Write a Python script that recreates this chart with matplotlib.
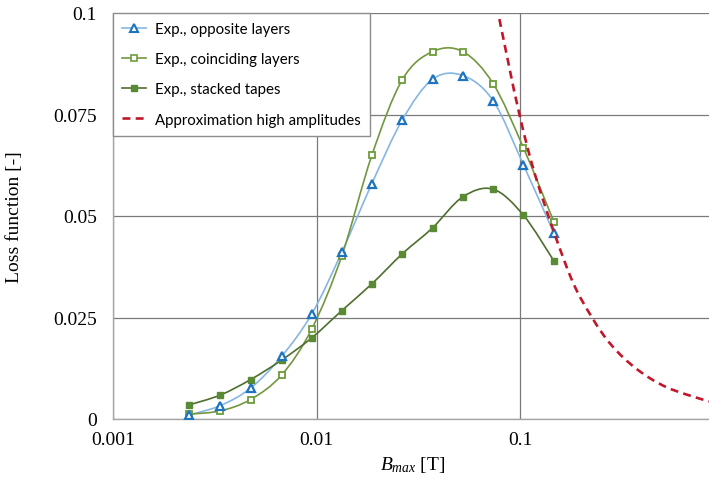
import numpy as np
import matplotlib
matplotlib.use("Agg")
import matplotlib.pyplot as plt
from matplotlib.path import Path
from matplotlib.patches import PathPatch
from matplotlib.lines import Line2D

# ---------------- data ----------------
b_max = [0.00237, 0.00336, 0.00473, 0.00672, 0.00947, 0.0133, 0.0187,
         0.0264, 0.0372, 0.0523, 0.0738, 0.104, 0.147]
opposite = [0.0010, 0.0033, 0.0076, 0.0154, 0.0259, 0.0411, 0.0580,
            0.0737, 0.0837, 0.0846, 0.0784, 0.0626, 0.0457]
coinciding = [0.0012, 0.0020, 0.0048, 0.0108, 0.0222, 0.0402, 0.0650,
              0.0836, 0.0905, 0.0905, 0.0826, 0.0668, 0.0485]
stacked = [0.0035, 0.0059, 0.0097, 0.0145, 0.0200, 0.0267, 0.0333,
           0.0407, 0.0471, 0.0547, 0.0566, 0.0502, 0.0389]
approx_b = [0.0792, 0.0993, 0.1232, 0.1764, 0.2256, 0.2828, 0.3753, 0.5275, 0.8296, 1.0]
approx_loss = [0.0985, 0.0751, 0.0575, 0.0353, 0.0251, 0.0181, 0.0123, 0.0078, 0.0045, 0.0036]

series_labels = ["Exp., opposite layers", "Exp., coinciding layers",
                 "Exp., stacked tapes", "Approximation high amplitudes"]
x_ticks = [0.001, 0.01, 0.1]
x_tick_labels = ["0.001", "0.01", "0.1"]
y_ticks = [0, 0.025, 0.05, 0.075, 0.1]
y_tick_labels = ["0", "0.025", "0.05", "0.075", "0.1"]

# ---------------- style ----------------
plt.rcParams["mathtext.fontset"] = "custom"
plt.rcParams["mathtext.rm"] = "Liberation Serif"
plt.rcParams["mathtext.it"] = "Liberation Serif:italic"

c_opp_line = "#86b6e3"
c_opp_mark = "#1f74c0"
c_coin_line = "#73973f"
c_coin_mark = "#6c9c3a"
c_stack_line = "#4e6e2e"
c_stack_mark = "#5a8a34"
c_red = "#c0182a"
grid_c = "#7a7a7a"


def smooth_path(xs, ys):
    """Excel-like smoothed line (Catmull-Rom as cubic Bezier) in log-x space."""
    lx = np.log10(np.asarray(xs, float))
    y = np.asarray(ys, float)
    n = len(lx)
    verts = [(xs[0], ys[0])]
    codes = [Path.MOVETO]
    for i in range(n - 1):
        i0, i1, i2, i3 = max(i - 1, 0), i, i + 1, min(i + 2, n - 1)
        c1x = lx[i1] + (lx[i2] - lx[i0]) / 6.0
        c1y = y[i1] + (y[i2] - y[i0]) / 6.0
        c2x = lx[i2] - (lx[i3] - lx[i1]) / 6.0
        c2y = y[i2] - (y[i3] - y[i1]) / 6.0
        verts += [(10 ** c1x, c1y), (10 ** c2x, c2y), (xs[i2], ys[i2])]
        codes += [Path.CURVE4] * 3
    return Path(verts, codes)


fig = plt.figure(figsize=(7.09, 4.81), dpi=100)
ax = fig.add_axes([113.3 / 709, 61 / 481, 610 / 709, 406 / 481])
ax.set_xscale("log")
ax.set_xlim(0.001, 1)
ax.set_ylim(0, 0.1)

# grid
ax.set_xticks(x_ticks)
ax.set_xticklabels(x_tick_labels)
ax.set_yticks(y_ticks)
ax.set_yticklabels(y_tick_labels)
ax.xaxis.set_minor_locator(matplotlib.ticker.NullLocator())
ax.grid(True, which="major", color=grid_c, linewidth=0.9)
ax.set_axisbelow(True)
for s in ["top", "right"]:
    ax.spines[s].set_visible(False)
for s in ["left", "bottom"]:
    ax.spines[s].set_color("#a6a6a6")
    ax.spines[s].set_linewidth(1.0)
ax.tick_params(axis="both", length=0)
ax.tick_params(axis="y", pad=12)
ax.tick_params(axis="x", pad=8.5)
for lab in ax.get_xticklabels() + ax.get_yticklabels():
    lab.set_fontfamily("Liberation Serif")
    lab.set_fontsize(14)

# series lines (smoothed)
ax.add_patch(PathPatch(smooth_path(b_max, opposite), fill=False,
                       edgecolor=c_opp_line, linewidth=1.2, zorder=3))
ax.add_patch(PathPatch(smooth_path(b_max, coinciding), fill=False,
                       edgecolor=c_coin_line, linewidth=1.2, zorder=3))
ax.add_patch(PathPatch(smooth_path(b_max, stacked), fill=False,
                       edgecolor=c_stack_line, linewidth=1.2, zorder=3))
ax.add_patch(PathPatch(smooth_path(approx_b, approx_loss), fill=False,
                       edgecolor=c_red, linewidth=1.9, linestyle=(0, (3.0, 2.0)),
                       capstyle="butt", zorder=5))

# markers
ax.plot(b_max, stacked, linestyle="none", marker="s", markersize=4.6,
        markerfacecolor=c_stack_mark, markeredgecolor=c_stack_mark, zorder=4)
ax.plot(b_max, coinciding, linestyle="none", marker="s", markersize=4.8,
        markerfacecolor="white", markeredgecolor=c_coin_mark,
        markeredgewidth=1.3, zorder=4)
ax.plot(b_max, opposite, linestyle="none", marker="^", markersize=5.8,
        markerfacecolor="white", markeredgecolor=c_opp_mark,
        markeredgewidth=1.6, zorder=4)

# legend
handles = [
    Line2D([], [], color=c_opp_line, lw=1.2, marker="^", markersize=5.2,
           markerfacecolor="white", markeredgecolor=c_opp_mark, markeredgewidth=1.5),
    Line2D([], [], color=c_coin_line, lw=1.2, marker="s", markersize=4.2,
           markerfacecolor="white", markeredgecolor=c_coin_mark, markeredgewidth=1.2),
    Line2D([], [], color=c_stack_line, lw=1.2, marker="s", markersize=4.2,
           markerfacecolor=c_stack_mark, markeredgecolor=c_stack_mark),
    Line2D([], [], color=c_red, lw=1.9, linestyle=(0, (3.0, 2.0))),
]
leg = ax.legend(handles, series_labels, loc="upper left", bbox_to_anchor=(0, 1),
                borderaxespad=0, frameon=True, fancybox=False, framealpha=1,
                prop={"family": "Lato", "size": 10.8},
                handlelength=1.6, handletextpad=0.6, labelspacing=1.08,
                borderpad=0.6)
leg.get_frame().set_edgecolor("#8c8c8c")
leg.get_frame().set_linewidth(1.0)
leg.set_zorder(6)

# axis labels
ax.set_ylabel("Loss function [-]", fontfamily="Liberation Serif", fontsize=14)
ax.yaxis.set_label_coords(-0.1485, 0.5)
ax.set_xlabel("$B_{max}$ [T]", fontfamily="Liberation Serif", fontsize=14)
ax.xaxis.set_label_coords(0.491, -0.086)

fig.savefig("out.png", dpi=100)
